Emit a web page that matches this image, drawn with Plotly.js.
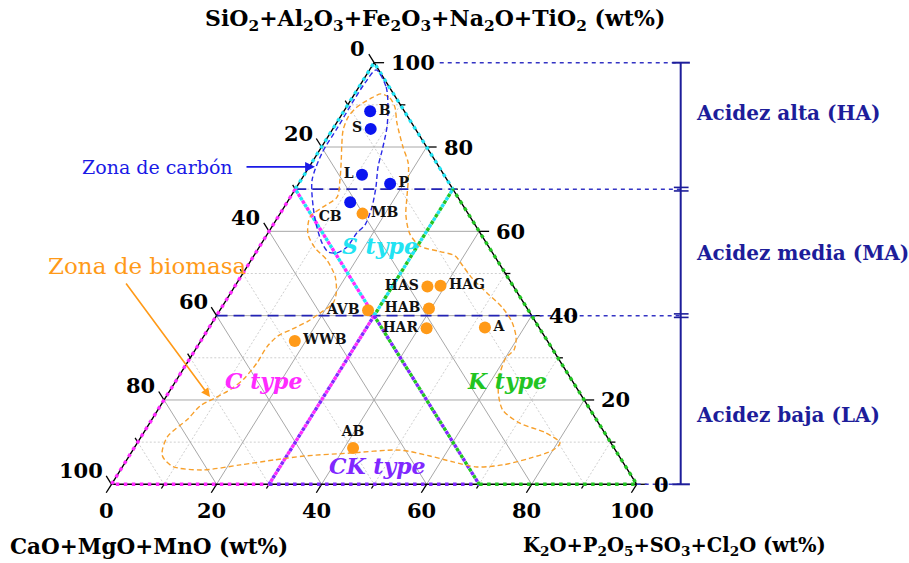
<!DOCTYPE html>
<html><head><meta charset="utf-8">
<script src="https://cdn.plot.ly/plotly-3.0.1.min.js"></script>
<style>html,body{margin:0;padding:0;background:#fff}#chart{width:909px;height:563px}</style>
</head><body><div id="chart"></div>
<script>
// ---------------- data (wt%) ----------------
// Si = SiO2+Al2O3+Fe2O3+Na2O+TiO2, Ca = CaO+MgO+MnO, K = K2O+P2O5+SO3+Cl2O
const coalNames = ['B', 'S', 'L', 'P', 'CB'];
const coalSi = [88.5, 84.3, 73.4, 71.3, 66.9];
const coalCa = [6.5, 8.5, 15.6, 11.3, 21.1];
const coalK  = [5.0, 7.2, 11.0, 17.4, 12.0];

const bioNames = ['MB', 'HAS', 'HAG', 'HAB', 'AVB', 'HAR', 'A', 'WWB', 'AB'];
const bioSi = [64.2, 46.9, 47.1, 41.7, 41.3, 37.0, 37.2, 34.0, 8.6];
const bioCa = [20.1, 16.4, 13.8, 18.7, 30.5, 21.5, 10.3, 48.1, 49.7];
const bioK  = [15.7, 36.7, 39.1, 39.6, 28.2, 41.5, 52.5, 17.9, 41.7];

// classification nodes: top, left70, centre, right70, bottom-left, bottom K30, bottom K70, bottom-right
const nodeSi = [100, 70, 40, 70, 0, 0, 0, 0];
const nodeCa = [0, 30, 30, 0, 100, 70, 30, 0];
const nodeK  = [0, 0, 30, 30, 0, 30, 70, 100];

// acidity levels (Si axis) and labels
const acidLevels = [0, 40, 70, 100];
const acidLabels = ['Acidez baja (LA)', 'Acidez media (MA)', 'Acidez alta (HA)'];

// coal zone contour (Si, K)
const coalZoneSi = [98.3, 94.2, 89.5, 84.7, 79.3, 75.3, 70.5, 65.8, 61.5, 59.6, 56.3, 54.9, 55.1, 57.2, 61.0, 65.8, 72.2, 78.6, 84.7, 90.4, 95.2];
const coalZoneK  = [1.25, 5.2, 7.9, 10.1, 11.9, 13.1, 15.1, 16.7, 17.5, 16.9, 16.7, 15.5, 13.7, 11.5, 8.6, 5.5, 2.1, 0.8, 0.75, 0.6, 0.67];

// biomass zone contour (Si, K)
const bioZoneSi = [92.6, 91.6, 89.5, 85.7, 80.0, 76.2, 72.2, 68.1, 63.9, 59.4, 56.5, 55.2, 54.2, 51.8, 48.9, 45.4, 41.8, 38.5, 34.7, 31.9, 30.0, 26.4, 21.7, 17.6, 14.5, 12.2, 9.8, 8.1, 6.2, 4.6, 4.1, 5.3, 6.7, 8.1, 7.4, 6.7, 5.8, 4.6, 3.4, 4.3, 6.9, 11.2, 15.5, 18.6, 20.5, 22.6, 25.0, 28.8, 32.6, 35.2, 36.8, 38.7, 40.9, 43.0, 45.4, 49.2, 53.2, 56.0, 59.4, 63.4, 65.8, 68.1, 72.2, 76.9, 80.5, 84.0, 87.1, 89.5, 91.4];
const bioZoneK  = [5.0, 7.2, 9.2, 11.5, 15.5, 18.4, 20.4, 22.2, 24.1, 27.1, 30.5, 35.0, 38.3, 41.0, 44.2, 48.8, 53.6, 57.0, 59.7, 60.7, 60.1, 60.8, 62.8, 65.7, 70.5, 76.6, 80.5, 80.0, 76.6, 72.2, 67.5, 62.4, 57.3, 50.9, 41.7, 33.3, 28.2, 22.2, 15.5, 9.4, 6.2, 5.0, 6.8, 7.6, 9.5, 11.5, 12.7, 13.3, 13.3, 14.1, 16.0, 18.1, 19.6, 20.7, 20.1, 18.0, 14.4, 10.8, 7.7, 6.1, 7.4, 8.9, 7.4, 5.3, 3.6, 2.1, 1.5, 2.0, 3.5];

const tickVals = [0, 10, 20, 30, 40, 50, 60, 70, 80, 90, 100];
const gridMajor = [20, 40, 60, 80];
const gridMinor = [10, 30, 50, 70, 90];

// ---------------- geometry helpers ----------------
const W = 909, H = 563;
const X0 = -21.23, X1 = 151.85, Y0 = -18.67, Y1 = 114.87;
const sx = W / (X1 - X0), sy = H / (Y1 - Y0);
function P(si, k) { return { x: k + si / 2, y: si }; }
const SERIF = 'DejaVu Serif';
const traces = [];
function seg(xs, ys, color, width, dash) {
  traces.push({ type: 'scatter', mode: 'lines', x: xs, y: ys, hoverinfo: 'skip', showlegend: false,
    line: { color: color, width: width, dash: dash || 'solid' } });
}

// grid
function gridXY(vals) {
  const xs = [], ys = [];
  vals.forEach(v => {
    let p = P(v, 0), q = P(v, 100 - v); xs.push(p.x, q.x, null); ys.push(p.y, q.y, null);
    p = P(100 - v, 0); q = P(0, 100 - v); xs.push(p.x, q.x, null); ys.push(p.y, q.y, null);
    p = P(100 - v, v); q = P(0, v); xs.push(p.x, q.x, null); ys.push(p.y, q.y, null);
  });
  return [xs, ys];
}
let g = gridXY(gridMinor); seg(g[0], g[1], '#cfcfcf', 1, '2px,2px');
g = gridXY(gridMajor); seg(g[0], g[1], '#a8a8a8', 1);

// triangle outline + ticks
const tri = [P(100, 0), P(0, 0), P(0, 100), P(100, 0)];
seg(tri.map(p => p.x), tri.map(p => p.y), '#000', 1.4);
const tx = [], ty = [];
const dnorm = Math.sqrt((0.5 * sx) ** 2 + sy ** 2);
tickVals.forEach(v => {
  const L = (v % 20 === 0) ? 10 : 5;
  let p = P(v, 100 - v); tx.push(p.x, p.x + L / sx, null); ty.push(p.y, p.y, null);
  const t = L / dnorm;
  p = P(100 - v, 0); tx.push(p.x, p.x - 0.5 * t, null); ty.push(p.y, p.y + t, null);
  p = P(0, v); tx.push(p.x, p.x - 0.5 * t, null); ty.push(p.y, p.y - t, null);
});
seg(tx, ty, '#000', 1.3);

// acidity lines
const bracketX = 108.38;
[70, 40].forEach(a => {
  const l = P(a, 0), r = P(a, 100 - a);
  seg([l.x, r.x], [a, a], '#2323b5', 1.6, '11px,6px');
  seg([r.x, bracketX], [a, a], '#3434c4', 1.5, '4px,4px');
});
seg([62.5, bracketX], [100, 100], '#3434c4', 1.5, '4px,4px');
seg([P(0, 100).x, bracketX], [0, 0], '#3434c4', 1.5, '4px,4px');

// bracket
const NAVY = '#1d1d9a';
seg([bracketX, bracketX], [acidLevels[0], acidLevels[3]], NAVY, 2);
[acidLevels[0], acidLevels[3]].forEach(a => seg([bracketX - 1.6, bracketX + 1.75], [a, a], NAVY, 2));
[acidLevels[1], acidLevels[2]].forEach(a => {
  seg([bracketX - 1.3, bracketX + 1.5], [a + 0.42, a + 0.42], NAVY, 1.6);
  seg([bracketX - 1.3, bracketX + 1.5], [a - 0.42, a - 0.42], NAVY, 1.6);
});

// classification boundaries
const CY = '#22e3f2', MG = '#ff2bff', GR = '#22c422', PU = '#8028ff';
const DW = 3.4;
const PRIM = '3.5px,4.5px', SEC = '0px,4px,3.5px,0.5px';
function poly(idx, color, dash) {
  seg(idx.map(i => P(nodeSi[i], nodeK[i]).x), idx.map(i => P(nodeSi[i], nodeK[i]).y), color, DW, dash);
}
// outer edges
poly([1, 0, 3], CY, PRIM);
poly([1, 4, 5], MG, PRIM);
poly([5, 6], PU, PRIM);
poly([6, 7, 3], GR, PRIM);
// inner shared lines (all from centre)
poly([2, 1], CY, PRIM); poly([2, 1], MG, SEC);
poly([2, 3], CY, PRIM); poly([2, 3], GR, SEC);
poly([2, 5], MG, PRIM); poly([2, 5], PU, SEC);
poly([2, 6], PU, PRIM); poly([2, 6], GR, SEC);

// zones
function closed(si, k) { const xs = [], ys = []; si.forEach((a, i) => { const p = P(a, k[i]); xs.push(p.x); ys.push(p.y); }); xs.push(xs[0]); ys.push(ys[0]); return [xs, ys]; }
let z = closed(bioZoneSi, bioZoneK);
traces.push({ type: 'scatter', mode: 'lines', x: z[0], y: z[1], hoverinfo: 'skip', line: { color: '#f7a02c', width: 1.4, dash: '5px,3px', shape: 'spline', smoothing: 0.8 } });
z = closed(coalZoneSi, coalZoneK);
traces.push({ type: 'scatter', mode: 'lines', x: z[0], y: z[1], hoverinfo: 'skip', line: { color: '#2a2ae8', width: 1.4, dash: '5px,3px', shape: 'spline', smoothing: 0.8 } });

// points
const coalPos = ['middle right', 'middle left', 'middle left', 'middle right', 'bottom left'];
const bioPos = ['middle right', 'middle left', 'middle right', 'middle left', 'middle left', 'middle left', 'middle right', 'middle right', 'top center'];
const ptFont = { family: SERIF, size: 14, color: '#111', weight: 'bold' };
traces.push({ type: 'scatter', mode: 'markers+text', x: coalSi.map((a, i) => P(a, coalK[i]).x), y: coalSi.slice(),
  text: coalNames, textposition: coalPos, textfont: ptFont, marker: { size: 12, color: '#0a14f0' }, hoverinfo: 'text' });
traces.push({ type: 'scatter', mode: 'markers+text', x: bioSi.map((a, i) => P(a, bioK[i]).x), y: bioSi.slice(),
  text: bioNames, textposition: bioPos, textfont: ptFont, marker: { size: 12, color: '#ff9a18' }, hoverinfo: 'text' });

// ---------------- annotations ----------------
const ann = [];
const tickFont = { family: SERIF, size: 21, color: '#000', weight: 'bold' };
tickVals.filter(v => v % 20 === 0).forEach(v => {
  let p = P(v, 100 - v);
  ann.push({ x: p.x, y: p.y, text: String(v), showarrow: false, xanchor: 'left', yanchor: 'middle', xshift: 15, font: tickFont });
  p = P(100 - v, 0);
  ann.push({ x: p.x, y: p.y, text: String(v), showarrow: false, xanchor: 'right', yanchor: 'middle', xshift: -7, yshift: 14, font: tickFont });
  p = P(0, v);
  ann.push({ x: p.x, y: p.y, text: String(v), showarrow: false, xanchor: 'center', yanchor: 'middle', xshift: -5, yshift: -26, font: tickFont });
});
ann.push({ xref: 'paper', yref: 'paper', x: 435 / W, y: 1 - 20 / H, text: 'SiO<sub>2</sub>+Al<sub>2</sub>O<sub>3</sub>+Fe<sub>2</sub>O<sub>3</sub>+Na<sub>2</sub>O+TiO<sub>2</sub> (wt%)', showarrow: false, xanchor: 'center', yanchor: 'middle', font: { family: SERIF, size: 22, color: '#000', weight: 'bold' } });
ann.push({ xref: 'paper', yref: 'paper', x: 8 / W, y: 1 - 546 / H, text: 'CaO+MgO+MnO (wt%)', showarrow: false, xanchor: 'left', yanchor: 'middle', font: { family: SERIF, size: 21.5, color: '#000', weight: 'bold' } });
ann.push({ xref: 'paper', yref: 'paper', x: 521 / W, y: 1 - 546 / H, text: 'K<sub>2</sub>O+P<sub>2</sub>O<sub>5</sub>+SO<sub>3</sub>+Cl<sub>2</sub>O (wt%)', showarrow: false, xanchor: 'left', yanchor: 'middle', font: { family: SERIF, size: 19.5, color: '#000', weight: 'bold' } });

// acidity labels
const acidLabelSi = [16.4, 54.9, 88.1];
acidLabels.forEach((t, i) => ann.push({ x: 110.9, y: acidLabelSi[i], text: t, showarrow: false, xanchor: 'left', yanchor: 'middle', font: { family: SERIF, size: 20, color: NAVY, weight: 'bold' } }));

// type labels
function typeLabel(si, k, t, c) { const p = P(si, k); ann.push({ x: p.x, y: p.y, text: t, showarrow: false, xanchor: 'center', yanchor: 'middle', font: { family: SERIF, size: 22, color: c, weight: 'bold', style: 'italic' } }); }
typeLabel(56.5, 22.9, 'S type', CY);
typeLabel(24.5, 16.8, 'C type', MG);
typeLabel(24.5, 63.05, 'K type', GR);
typeLabel(4.34, 48.4, 'CK type', PU);

// zone callouts
let h = P(75.3, 1.1);
ann.push({ x: h.x, y: h.y, text: '', showarrow: true, ax: -70, ay: 0, arrowhead: 2, arrowsize: 1.1, arrowwidth: 1.8, arrowcolor: '#1a1ae6' });
ann.push({ x: h.x, y: h.y, text: 'Zona de carbón', showarrow: false, xanchor: 'right', yanchor: 'middle', xshift: -80, font: { family: SERIF, size: 19, color: '#1a1ae6' } });
h = P(20.7, 8.4);
ann.push({ x: h.x, y: h.y, text: '', showarrow: true, ax: -85, ay: -115, arrowhead: 2, arrowsize: 1.1, arrowwidth: 1.6, arrowcolor: '#ff9a18' });
ann.push({ xref: 'paper', yref: 'paper', x: 147 / W, y: 1 - 266 / H, text: 'Zona de biomasa', showarrow: false, xanchor: 'center', yanchor: 'middle', font: { family: SERIF, size: 23, color: '#ff9a18' } });

const layout = {
  width: W, height: H, margin: { l: 0, r: 0, t: 0, b: 0 },
  paper_bgcolor: '#fff', plot_bgcolor: '#fff', showlegend: false,
  xaxis: { range: [X0, X1], visible: false, fixedrange: true },
  yaxis: { range: [Y0, Y1], visible: false, fixedrange: true },
  annotations: ann
};
Plotly.newPlot('chart', traces, layout, { staticPlot: true, displayModeBar: false });
</script></body></html>
